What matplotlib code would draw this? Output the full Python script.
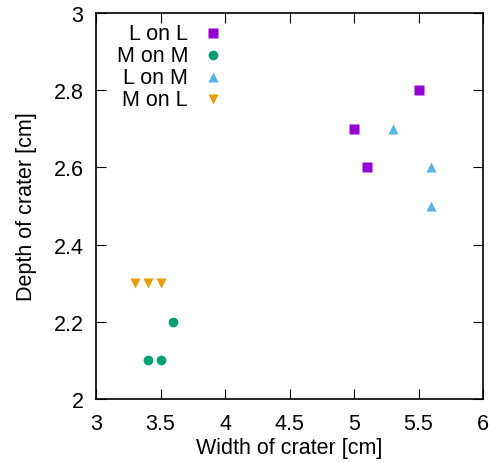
import matplotlib
matplotlib.use('Agg')
import matplotlib.pyplot as plt

plt.rcParams['font.family'] = ['Liberation Sans', 'DejaVu Sans']

labels = ['L on L', 'M on M', 'L on M', 'M on L']
widths = [[5.0, 5.1, 5.5], [3.4, 3.5, 3.6], [5.3, 5.6, 5.6], [3.3, 3.4, 3.5]]
depths = [[2.7, 2.6, 2.8], [2.1, 2.1, 2.2], [2.7, 2.6, 2.5], [2.3, 2.3, 2.3]]
colors = ['#9400d3', '#009e73', '#56b4e9', '#e69f00']
markers = ['s', 'o', '^', 'v']
xticks = [3, 3.5, 4, 4.5, 5, 5.5, 6]
yticks = [2, 2.2, 2.4, 2.6, 2.8, 3]
fs = 15.5

fig = plt.figure(figsize=(4.97, 4.64), dpi=100)
ax = fig.add_axes([96 / 497, 64 / 464, 387 / 497, 386 / 464])

for i in range(len(labels)):
    ax.plot(widths[i], depths[i], ls='none', marker=markers[i], color=colors[i], ms=7, mec='none')
    # key, gnuplot style: text right aligned then the symbol
    ky = 0.948 - i * 0.057
    ax.text(0.238, ky, labels[i], transform=ax.transAxes, ha='right', va='center', fontsize=fs)
    ax.plot([0.302], [ky], transform=ax.transAxes, ls='none', marker=markers[i], color=colors[i], ms=7, mec='none')

ax.set_xlim(3, 6)
ax.set_ylim(2, 3)
ax.set_xticks(xticks)
ax.set_xticklabels([('%g' % v) for v in xticks])
ax.set_yticks(yticks)
ax.set_yticklabels([('%g' % v) for v in yticks])
ax.tick_params(direction='in', length=7, width=0.8, top=True, right=True, labelsize=fs)
ax.tick_params(axis='x', pad=10)
ax.tick_params(axis='y', pad=9)
for s in ax.spines.values():
    s.set_linewidth(1.2)
ax.set_xlabel('Width of crater [cm]', fontsize=fs, labelpad=2)
ax.set_ylabel('Depth of crater [cm]', fontsize=fs, labelpad=12)

plt.savefig('out.png', dpi=100)
